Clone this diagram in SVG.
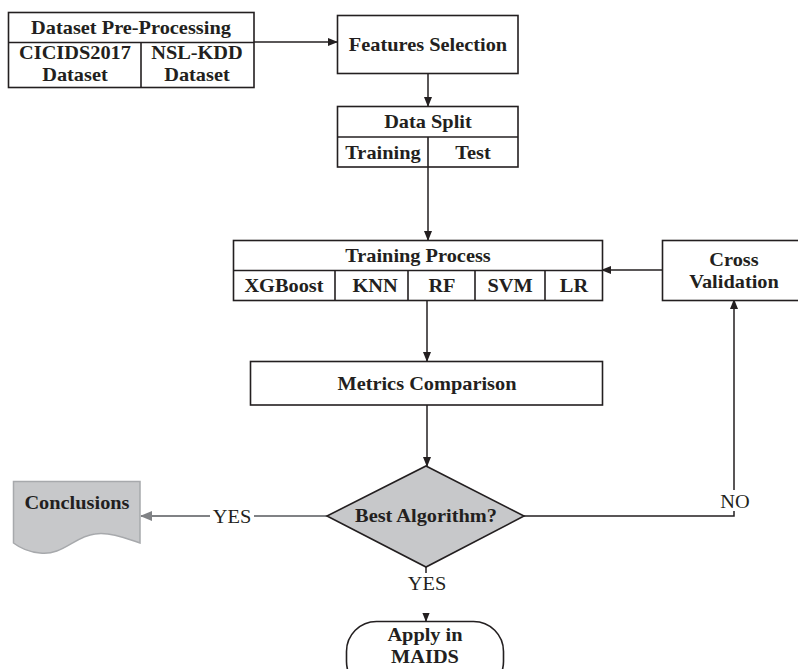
<svg xmlns="http://www.w3.org/2000/svg" width="798" height="669" viewBox="0 0 798 669">
<defs>
<marker id="arr" markerWidth="10" markerHeight="8" refX="9" refY="4" orient="auto" markerUnits="userSpaceOnUse">
<path d="M0,0 L10,4 L0,8 Z" fill="#231f20"/>
</marker>
<marker id="arrg" markerWidth="12" markerHeight="10" refX="11" refY="5" orient="auto" markerUnits="userSpaceOnUse">
<path d="M0,0 L12,5 L0,10 Z" fill="#808285"/>
</marker>
<style>
.box{fill:#fff;stroke:#231f20;stroke-width:1.6}
.ln{fill:none;stroke:#231f20;stroke-width:1.6}
.con{fill:none;stroke:#231f20;stroke-width:1.5}
.t,.r{font-family:"Liberation Serif","Times New Roman",serif;font-size:18.5px;fill:#231f20;text-anchor:middle;transform-box:fill-box;transform-origin:center;transform:scaleX(1.1)}
.t{font-weight:bold}
</style>
</defs>
<rect width="798" height="669" fill="#fff"/>

<g id="connectors">
<line class="con" x1="254" y1="42" x2="337" y2="42" marker-end="url(#arr)"/>
<line class="con" x1="428" y1="73" x2="428" y2="106" marker-end="url(#arr)"/>
<line class="con" x1="428" y1="167" x2="428" y2="240" marker-end="url(#arr)"/>
<line class="con" x1="662" y1="270" x2="602" y2="270" marker-end="url(#arr)"/>
<line class="con" x1="427" y1="300" x2="427" y2="361" marker-end="url(#arr)"/>
<line class="con" x1="427" y1="405" x2="427" y2="466" marker-end="url(#arr)"/>
<line x1="327" y1="516" x2="141" y2="516" stroke="#808285" stroke-width="2.2" marker-end="url(#arrg)"/>
<polyline class="con" points="524,516 734,516 734,300" marker-end="url(#arr)"/>
<line class="con" x1="426" y1="567" x2="426" y2="621" marker-end="url(#arr)"/>
<rect x="210" y="505" width="44" height="22" fill="#fff"/>
<text class="r" x="232" y="523">YES</text>
<rect x="717" y="490" width="34" height="21" fill="#fff"/>
<text class="r" x="735" y="508">NO</text>
<rect x="405" y="573" width="44" height="40" fill="#fff"/>
<text class="r" x="427" y="590">YES</text>
</g>

<g id="dataset-preprocessing">
<rect class="box" x="8.5" y="12.5" width="245.5" height="75"/>
<line class="ln" x1="8.5" y1="42.5" x2="254" y2="42.5"/>
<line class="ln" x1="141" y1="42.5" x2="141" y2="87.5"/>
<text class="t" x="131" y="34">Dataset Pre-Processing</text>
<text class="t" x="75" y="59">CICIDS2017</text>
<text class="t" x="75" y="81">Dataset</text>
<text class="t" x="197" y="59">NSL-KDD</text>
<text class="t" x="197" y="81">Dataset</text>
</g>

<g id="features-selection">
<rect class="box" x="337.5" y="15.5" width="180.5" height="58"/>
<text class="t" x="428" y="51">Features Selection</text>
</g>

<g id="data-split">
<rect class="box" x="337.5" y="106.5" width="180.5" height="60.5"/>
<line class="ln" x1="337.5" y1="137" x2="518" y2="137"/>
<line class="ln" x1="428" y1="137" x2="428" y2="167"/>
<text class="t" x="428" y="128">Data Split</text>
<text class="t" x="383" y="159">Training</text>
<text class="t" x="473" y="159">Test</text>
</g>

<g id="training-process">
<rect class="box" x="233.5" y="240.5" width="369" height="60"/>
<line class="ln" x1="233.5" y1="270.5" x2="602.5" y2="270.5"/>
<line class="ln" x1="335" y1="270.5" x2="335" y2="300.5"/>
<line class="ln" x1="408" y1="270.5" x2="408" y2="300.5"/>
<line class="ln" x1="475" y1="270.5" x2="475" y2="300.5"/>
<line class="ln" x1="545" y1="270.5" x2="545" y2="300.5"/>
<text class="t" x="418" y="262">Training Process</text>
<text class="t" x="284" y="292">XGBoost</text>
<text class="t" x="375" y="292">KNN</text>
<text class="t" x="442" y="292">RF</text>
<text class="t" x="510" y="292">SVM</text>
<text class="t" x="574" y="292">LR</text>
</g>

<g id="cross-validation">
<rect class="box" x="662.5" y="240.5" width="145" height="60"/>
<text class="t" x="734" y="266">Cross</text>
<text class="t" x="734" y="288">Validation</text>
</g>

<g id="metrics-comparison">
<rect class="box" x="250.5" y="361.5" width="352" height="43.5"/>
<text class="t" x="427" y="390">Metrics Comparison</text>
</g>

<g id="best-algorithm">
<polygon points="426,466 524,516 426,567 327,516" fill="#c7c8ca" stroke="#231f20" stroke-width="1.6"/>
<text class="t" x="426" y="522">Best Algorithm?</text>
</g>

<g id="conclusions">
<path d="M13.5,481.5 L140,481.5 L140,543 C125,538 110,532 95,534 C75,536 62,556 40,553 C28,552 20,548 13.5,543 Z" fill="#c7c8ca" stroke="#a7a9ac" stroke-width="1.5"/>
<text class="t" x="77" y="509">Conclusions</text>
</g>

<g id="apply-maids">
<rect x="346.5" y="621.5" width="157" height="70" rx="30" ry="30" fill="#fff" stroke="#231f20" stroke-width="1.6"/>
<text class="t" x="425" y="641">Apply in</text>
<text class="t" x="425" y="663">MAIDS</text>
</g>
</svg>
